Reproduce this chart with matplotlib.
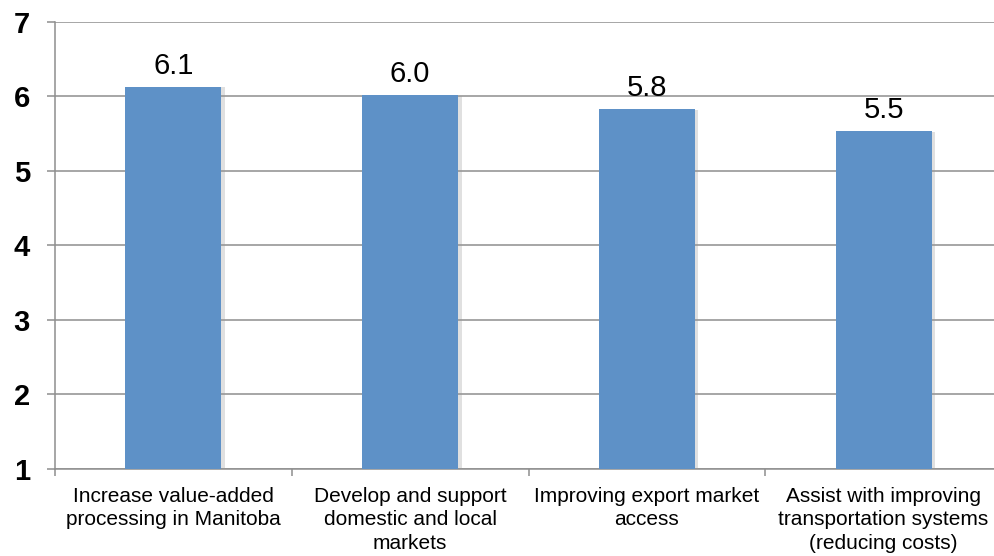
import matplotlib
matplotlib.use("Agg")
import matplotlib.pyplot as plt
import matplotlib.patheffects as pe
import numpy as np

plt.rcParams["font.family"] = ["Liberation Sans", "DejaVu Sans"]

categories = [
    "Increase value-added\nprocessing in Manitoba",
    "Develop and support\ndomestic and local\nmarkets",
    "Improving export market\naccess",
    "Assist with improving\ntransportation systems\n(reducing costs)",
]
values = [6.13, 6.02, 5.83, 5.53]
y_ticks = [1, 2, 3, 4, 5, 6, 7]

bar_color = "#5E91C7"
grid_color = "#8E8E8E"

W, H = 995, 556
fig = plt.figure(figsize=(W / 100, H / 100), dpi=100)
ax = fig.add_axes([55 / W, 1 - 468.5 / H, 947 / W, (468.5 - 22) / H])

x = np.arange(len(categories))
bars = ax.bar(x, [v - 1 for v in values], bottom=1, width=0.405,
              color=bar_color, zorder=3, linewidth=0)
for b in bars:
    b.set_path_effects([
        pe.SimplePatchShadow(offset=(2.5, -0.5), shadow_rgbFace="#9a9a9a", alpha=0.3),
        pe.Normal(),
    ])

for xi, v in zip(x, values):
    ax.annotate(f"{v:.1f}", (xi, v), xytext=(0, 9.3), textcoords="offset points",
                ha="center", va="baseline", fontsize=21, color="black", zorder=5)

ax.set_xlim(-0.5, len(categories) - 0.5)
ax.set_ylim(1, 7)
ax.set_yticks(y_ticks)
ax.set_yticklabels([str(t) for t in y_ticks], fontsize=21, fontweight="bold")
ax.yaxis.grid(True, color=grid_color, linewidth=1.1, zorder=0)
ax.set_axisbelow(True)

ax.set_xticks(x)
ax.set_xticklabels(categories, fontsize=15, linespacing=1.3)
ax.set_xticks(np.arange(len(categories) + 1) - 0.5, minor=True)
ax.tick_params(axis="x", which="major", length=0, pad=13)
ax.tick_params(axis="x", which="minor", length=5, color=grid_color, width=1.1, direction="out")
ax.tick_params(axis="y", length=6, color=grid_color, width=1.1, pad=12)

for s in ["top", "right"]:
    ax.spines[s].set_visible(False)
for s in ["left", "bottom"]:
    ax.spines[s].set_color(grid_color)
    ax.spines[s].set_linewidth(1.1)

fig.savefig("out.png", dpi=100)
